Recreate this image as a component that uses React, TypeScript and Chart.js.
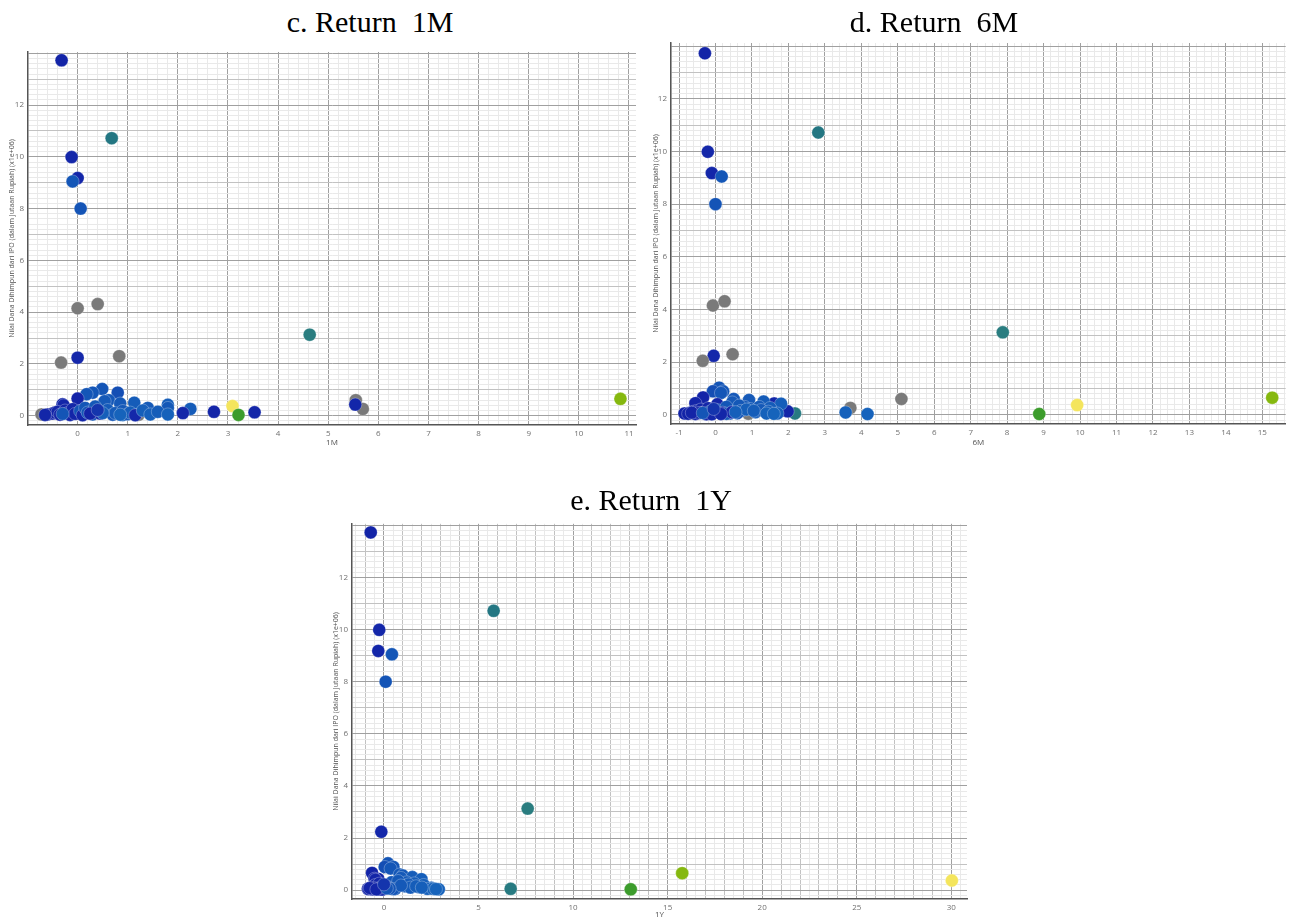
import React, { useEffect, useRef } from 'react';
import { Chart, registerables } from 'chart.js';

Chart.register(...registerables);

// ---- data (one entry per company) ----
const fundValue = [
  13.73, 10.72, 9.99, 9.18, 9.05, 8.0, 4.15, 4.31, 2.24, 2.05, 2.3, 3.13, 0.37, 0.03, 0.65,
  0.05, 0.6, 0.26, 0.43, 0.15, 0.13, 0.09, 0.03, 0.05, 0.04,
  1.03, 0.89, 0.89, 0.83, 0.66, 0.6, 0.56, 0.5, 0.47, 0.44, 0.42, 0.3, 0.26, 0.3, 0.4,
  0.05, 0.08, 0.12, 0.15, 0.04, 0.2, 0.1, 0.03, 0.25, 0.07, 0.18, 0.02, 0.3, 0.12, 0.05,
  0.35, 0.08, 0.15, 0.22, 0.04, 0.1, 0.18, 0.06, 0.12, 0.02, 0.2, 0.05, 0.15, 0.05, 0.1,
  0.08, 0.03, 0.1, 0.04, 0.07, 0.22,
];
const ret1M = [
  -0.32, 0.68, -0.12, 0.0, -0.1, 0.06, 0.0, 0.4, 0.0, -0.33, 0.83, 4.63, 3.09, 3.21, 10.83,
  1.2, 5.55, 5.69, 5.54, 2.72, 3.53, 1.45, 0.9, -0.72, 1.22,
  0.49, 0.8, 0.3, 0.18, 0.0, 0.62, 0.54, 1.13, 0.85, -0.3, 1.8, 1.4, 2.25, 1.8, -0.28,
  -0.6, -0.5, -0.45, -0.4, -0.35, -0.25, -0.2, -0.15, -0.1, -0.05, 0.05, 0.1, 0.15, 0.2, 0.3,
  0.35, 0.45, 0.55, 0.6, 0.7, 0.75, 0.9, 1.0, 1.05, 1.15, 1.3, 1.45, 1.6, 1.8, 2.1,
  0.25, -0.65, 0.5, 0.85, -0.3, 0.4,
];
const ret6M = [
  -0.29, 2.82, -0.21, -0.1, 0.17, 0.0, -0.07, 0.25, -0.05, -0.35, 0.47, 7.88, 9.92, 8.88, 15.27,
  2.18, 5.1, 3.7, 1.61, 1.8, 1.98, 3.57, 4.17, -0.6, 0.9,
  0.1, -0.07, 0.21, 0.15, -0.34, 0.5, 0.92, 1.32, 0.46, -0.55, 1.8, 1.2, 1.5, 0.8, 0.05,
  -0.85, -0.7, -0.6, -0.5, -0.75, -0.4, -0.3, -0.55, -0.2, -0.45, 0.05, -0.25, 0.3, -0.15, 0.4,
  0.65, 0.2, 0.7, 0.95, 0.3, 1.1, 1.25, 0.6, 1.45, -0.1, 0.85, 1.7, 1.05, 1.4, 0.45,
  -0.65, 0.15, 0.55, 1.6, -0.35, -0.05,
];
const ret1Y: (number | null)[] = [
  -0.7, 5.8, -0.25, -0.3, 0.42, 0.09, null, null, -0.14, null, null, 7.6, 30.03, 13.05, 15.77,
  6.7, null, null, -0.3, -0.5, -0.4, 2.5, 2.9, null, null,
  0.21, 0.04, 0.5, 0.35, -0.63, 0.83, 1.0, 1.5, 0.9, -0.5, 1.98, 1.2, 1.6, 0.7, -0.45,
  -0.85, -0.7, -0.6, -0.55, -0.8, -0.45, -0.35, -0.6, -0.25, -0.5, 0.1, -0.3, 0.4, 0.2, 0.6,
  0.75, -0.2, 1.1, 1.3, 0.5, 1.4, 0.9, 0.3, 1.8, -0.1, 2.1, 2.3, 1.7, 2.6, -0.15,
  -0.75, -0.4, 2.0, 2.75, 0.15, 0.0,
];

const panelTitles = ['c. Return  1M', 'd. Return  6M', 'e. Return  1Y'];
const xAxisTitles = ['1M', '6M', '1Y'];
const yAxisTitle = 'Nilai Dana Dihimpun dari IPO (dalam Jutaan Rupiah) (x1e+06)';

// colour scale keyed on the 1Y return
const colorStops: [number, string][] = [
  [-1, '#1222a6'],
  [-0.02, '#1428aa'],
  [0.05, '#1454b6'],
  [3, '#1664bc'],
  [5.8, '#237682'],
  [7.6, '#2a7d80'],
  [13, '#3b9b2d'],
  [15.8, '#86b80f'],
  [30, '#f4e55d'],
];
const missingColor = '#7a7a7a';

function hexToRgb(h: string) {
  const n = parseInt(h.slice(1), 16);
  return [(n >> 16) & 255, (n >> 8) & 255, n & 255];
}
function colorFor(v: number | null) {
  if (v === null) return missingColor;
  if (v <= colorStops[0][0]) return colorStops[0][1];
  for (let i = 1; i < colorStops.length; i++) {
    const [v1, c1] = colorStops[i];
    const [v0, c0] = colorStops[i - 1];
    if (v <= v1) {
      const t = (v - v0) / (v1 - v0);
      const a = hexToRgb(c0), b = hexToRgb(c1);
      const r = a.map((x, k) => Math.round(x + (b[k] - x) * t));
      return `rgb(${r[0]},${r[1]},${r[2]})`;
    }
  }
  return colorStops[colorStops.length - 1][1];
}

function makeTicks(min: number, max: number, step: number) {
  const out: { value: number }[] = [];
  const k0 = Math.ceil(min / step - 1e-9);
  const k1 = Math.floor(max / step + 1e-9);
  for (let k = k0; k <= k1; k++) out.push({ value: +(k * step).toFixed(6) });
  return out;
}
const isMult = (v: number, m: number) => Math.abs(v / m - Math.round(v / m)) < 1e-6;

type AxisSpec = {
  min: number; max: number; minor: number; mid: number; major: number; labelMax: number;
  title: string; titlePad: number; titleSize: number; size: number; horizontal: boolean; labelPad: number;
};

function axisCfg(a: AxisSpec) {
  return {
    type: 'linear',
    min: a.min,
    max: a.max,
    afterBuildTicks: (s: any) => { s.ticks = makeTicks(a.min, a.max, a.minor); },
    afterFit: (s: any) => { if (a.horizontal) s.height = a.size; else s.width = a.size; },
    ticks: {
      autoSkip: false, maxRotation: 0, minRotation: 0, padding: a.labelPad,
      color: '#707070', font: { family: 'Open Sans', size: 8 },
      callback: (v: number) => (isMult(v, a.major) && v <= a.labelMax ? String(Math.round(v)) : ''),
    },
    grid: {
      drawTicks: false,
      lineWidth: 1,
      color: (ctx: any) => {
        const v = ctx.tick ? ctx.tick.value : 0;
        if (isMult(v, a.major)) return '#a0a0a0';
        if (isMult(v, a.mid)) return '#c2c2c2';
        return '#e9e9e9';
      },
    },
    border: { color: '#555', width: 1.5 },
    title: {
      display: true, text: a.title, color: '#505050',
      font: { family: 'Open Sans', size: a.titleSize },
      padding: { top: a.titlePad, bottom: a.titlePad },
    },
  };
}

type PanelSpec = {
  idx: number; xs: (number | null)[];
  left: number; top: number; width: number; height: number;
  padTop: number; padRight: number; yWidth: number; xHeight: number;
  xMin: number; xMax: number; xMinor: number; xMid: number; xMajor: number;
  yMin: number; yMax: number; yTitlePad: number; xTitlePad: number;
};

const panels: PanelSpec[] = [
  { idx: 0, xs: ret1M, left: 0, top: 40, width: 645, height: 420, padTop: 12, padRight: 9, yWidth: 28, xHeight: 35,
    xMin: -0.99, xMax: 11.14, xMinor: 0.2, xMid: 1, xMajor: 1, yMin: -0.36, yMax: 14.05, yTitlePad: 7.8, xTitlePad: 12.2 },
  { idx: 1, xs: ret6M, left: 645, top: 20, width: 648, height: 440, padTop: 23, padRight: 3, yWidth: 26, xHeight: 36,
    xMin: -1.22, xMax: 15.64, xMinor: 0.2, xMid: 1, xMajor: 1, yMin: -0.35, yMax: 14.12, yTitlePad: 6.8, xTitlePad: 12.2 },
  { idx: 2, xs: ret1Y, left: 320, top: 515, width: 660, height: 410, padTop: 6, padRight: 13, yWidth: 32, xHeight: 26,
    xMin: -1.69, xMax: 30.83, xMinor: 0.5, xMid: 1, xMajor: 5, yMin: -0.34, yMax: 14.06, yTitlePad: 11.8, xTitlePad: 5.2 },
];

function Panel({ p }: { p: PanelSpec }) {
  const ref = useRef<HTMLCanvasElement>(null);
  useEffect(() => {
    if (!ref.current) return;
    const pts: { x: number; y: number }[] = [];
    const cols: string[] = [];
    fundValue.forEach((v, i) => {
      const x = p.xs[i];
      if (x === null || x === undefined) return;
      pts.push({ x, y: v });
      cols.push(colorFor(ret1Y[i]));
    });
    const chart = new Chart(ref.current, {
      type: 'scatter',
      data: {
        datasets: [{
          data: pts,
          pointRadius: 6.5,
          pointHoverRadius: 6.5,
          pointBackgroundColor: cols,
          pointBorderColor: 'rgba(255,255,255,0.35)',
          pointBorderWidth: 0.8,
        }],
      },
      options: {
        responsive: false,
        animation: false,
        devicePixelRatio: 1,
        layout: { padding: { top: p.padTop, right: p.padRight, left: 0, bottom: 0 } },
        plugins: { legend: { display: false }, tooltip: { enabled: false } },
        scales: {
          x: axisCfg({ min: p.xMin, max: p.xMax, minor: p.xMinor, mid: p.xMid, major: p.xMajor, labelMax: 1000,
            title: xAxisTitles[p.idx], titlePad: p.xTitlePad, titleSize: 8, size: p.xHeight, horizontal: true, labelPad: 4 }),
          y: axisCfg({ min: p.yMin, max: p.yMax, minor: 0.2, mid: 1, major: 2, labelMax: 13,
            title: yAxisTitle, titlePad: p.yTitlePad, titleSize: 7, size: p.yWidth, horizontal: false, labelPad: 4 }),
        } as any,
      },
    });
    return () => chart.destroy();
  }, [p]);
  return (
    <canvas
      ref={ref}
      width={p.width}
      height={p.height}
      style={{ position: 'absolute', left: p.left, top: p.top, width: p.width, height: p.height }}
    />
  );
}

const titlePos = [
  { cx: 370, top: 7 },
  { cx: 934, top: 7 },
  { cx: 651, top: 485 },
];

export default function App() {
  useEffect(() => {
    document.body.style.margin = '0';
  }, []);
  return (
    <div style={{ position: 'relative', width: 1293, height: 919, overflow: 'hidden', background: '#fff' }}>
      {panels.map((p) => <Panel key={p.idx} p={p} />)}
      {panelTitles.map((t, i) => (
        <div
          key={t}
          style={{
            position: 'absolute', left: titlePos[i].cx - 200, top: titlePos[i].top, width: 400,
            textAlign: 'center', whiteSpace: 'pre', fontFamily: "'Liberation Serif', 'Times New Roman', serif",
            fontSize: 30, lineHeight: '30px', color: '#000', pointerEvents: 'none',
          }}
        >
          {t}
        </div>
      ))}
    </div>
  );
}
